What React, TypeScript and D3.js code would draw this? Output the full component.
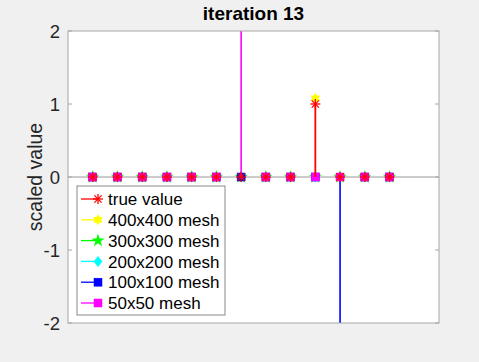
import React from "react";
import * as d3 from "d3";

const categories = [1, 2, 3, 4, 5, 6, 7, 8, 9, 10, 11, 12, 13];
const trueValue = [0, 0, 0, 0, 0, 0, 0, 0, 0, 1, 0, 0, 0];
const mesh400 = [0, 0, 0, 0, 0, 0, 0, 0, 0, 1.08, 0, 0, 0];
const mesh300 = [0, 0, 0, 0, 0, 0, 0, 0, 0, 0, 0, 0, 0];
const mesh200 = [0, 0, 0, 0, 0, 0, 0, 0, 0, 0, 0, 0, 0];
const mesh100 = [0, 0, 0, 0, 0, 0, 0, 0, 0, 0, -3.5, 0, 0];
const mesh50 = [0, 0, 0, 0, 0, 0, 3.2, 0, 0, 0, 0, 0, 0];
const yTicks = [-2, -1, 0, 1, 2];
const seriesNames = ["true value", "400x400 mesh", "300x300 mesh", "200x200 mesh", "100x100 mesh", "50x50 mesh"];

const W = 479, H = 362;
const L = 68, R = 439, T = 31, B = 323;
const FONT = "'Liberation Sans', Arial, Helvetica, sans-serif";

type Kind = "star" | "hex" | "pent" | "diamond" | "square";

function Marker({ kind, x, y, color }: { kind: Kind; x: number; y: number; color: string }) {
  if (kind === "star") {
    const r = 5;
    const d = r * 0.72;
    return (
      <g stroke={color} strokeWidth={1.3}>
        <line x1={x - r} y1={y} x2={x + r} y2={y} />
        <line x1={x} y1={y - r} x2={x} y2={y + r} />
        <line x1={x - d} y1={y - d} x2={x + d} y2={y + d} />
        <line x1={x - d} y1={y + d} x2={x + d} y2={y - d} />
      </g>
    );
  }
  if (kind === "square") {
    return <rect x={x - 4} y={y - 4} width={8} height={8} fill={color} stroke={color} strokeWidth={0.5} />;
  }
  if (kind === "diamond") {
    const r = 5.5;
    return <path d={`M${x},${y - r}L${x + r * 0.8},${y}L${x},${y + r}L${x - r * 0.8},${y}Z`} fill={color} />;
  }
  if (kind === "hex") {
    const pts: string[] = [];
    const ro = 5.5, ri = 3.2;
    for (let i = 0; i < 12; i++) {
      const a = (Math.PI / 6) * i - Math.PI / 2;
      const rr = i % 2 === 0 ? ro : ri;
      pts.push(`${x + rr * Math.cos(a)},${y + rr * Math.sin(a)}`);
    }
    return <polygon points={pts.join(" ")} fill={color} />;
  }
  const sym = d3.symbol().type(d3.symbolStar).size(55);
  return <path d={sym() || ""} transform={`translate(${x},${y})`} fill={color} />;
}

export default function App() {
  const x = d3.scaleLinear().domain([0, 15]).range([L, R]);
  const y = d3.scaleLinear().domain([-2, 2]).range([B, T]);

  const series = [
    { name: seriesNames[1], vals: mesh400, color: "#ffff00", kind: "hex" as Kind, sw: 1 },
    { name: seriesNames[2], vals: mesh300, color: "#00ff00", kind: "pent" as Kind, sw: 1.6 },
    { name: seriesNames[3], vals: mesh200, color: "#00ffff", kind: "diamond" as Kind, sw: 1.6 },
    { name: seriesNames[4], vals: mesh100, color: "#0000ff", kind: "square" as Kind, sw: 1.6 },
    { name: seriesNames[5], vals: mesh50, color: "#ff00ff", kind: "square" as Kind, sw: 1.6 },
    { name: seriesNames[0], vals: trueValue, color: "#ff0000", kind: "star" as Kind, sw: 1.8 },
  ];
  const legendOrder = [series[5], series[0], series[1], series[2], series[3], series[4]];

  const legX = 77, legY = 186, legW = 148, legH = 129;
  const rowY = (i: number) => 199 + i * 20.8;

  return (
    <svg width={W} height={H} style={{ position: "absolute", left: 0, top: 0 }} fontFamily={FONT}>
      <rect x={0} y={0} width={W} height={H} fill="#f0f0f0" />
      <rect x={L} y={T} width={R - L} height={B - T} fill="#ffffff" />
      <defs>
        <clipPath id="plotclip">
          <rect x={L} y={T} width={R - L} height={B - T} />
        </clipPath>
      </defs>
      <line x1={L} x2={R} y1={y(0)} y2={y(0)} stroke="#999999" strokeWidth={1.2} />
      <g clipPath="url(#plotclip)">
        {series.map((s) => (
          <g key={s.name}>
            {s.vals.map((v, i) =>
              v !== 0 ? (
                <line key={i} x1={x(categories[i])} x2={x(categories[i])} y1={y(0)} y2={y(v)} stroke={s.color} strokeWidth={s.sw} />
              ) : null
            )}
            {s.vals.map((v, i) => (
              <Marker key={"m" + i} kind={s.kind} x={x(categories[i])} y={y(v)} color={s.color} />
            ))}
          </g>
        ))}
      </g>
      <rect x={L} y={T} width={R - L} height={B - T} fill="none" stroke="#a6a6a6" strokeWidth={1} />
      {yTicks.map((t) => (
        <g key={t}>
          <line x1={L} x2={L + 4} y1={y(t)} y2={y(t)} stroke="#a6a6a6" />
          <line x1={R - 4} x2={R} y1={y(t)} y2={y(t)} stroke="#a6a6a6" />
          <text x={L - 8} y={y(t)} dy="0.36em" textAnchor="end" fontSize={18.5} fill="#262626">
            {t}
          </text>
        </g>
      ))}
      <text x={(L + R) / 2} y={20} textAnchor="middle" fontSize={19} fontWeight="bold" fill="#000">
        iteration 13
      </text>
      <text transform={`translate(42,${(T + B) / 2}) rotate(-90)`} textAnchor="middle" fontSize={19.5} fill="#262626">
        scaled value
      </text>
      <rect x={legX} y={legY} width={legW} height={legH} fill="#ffffff" stroke="#8a8a8a" strokeWidth={1} />
      {legendOrder.map((s, i) => (
        <g key={"leg" + i}>
          <line x1={81} x2={98} y1={rowY(i)} y2={rowY(i)} stroke={s.color} strokeWidth={1.3} />
          <Marker kind={s.kind} x={98} y={rowY(i)} color={s.color} />
          <text x={108} y={rowY(i)} dy="0.36em" fontSize={17} fill="#000">
            {s.name}
          </text>
        </g>
      ))}
    </svg>
  );
}
